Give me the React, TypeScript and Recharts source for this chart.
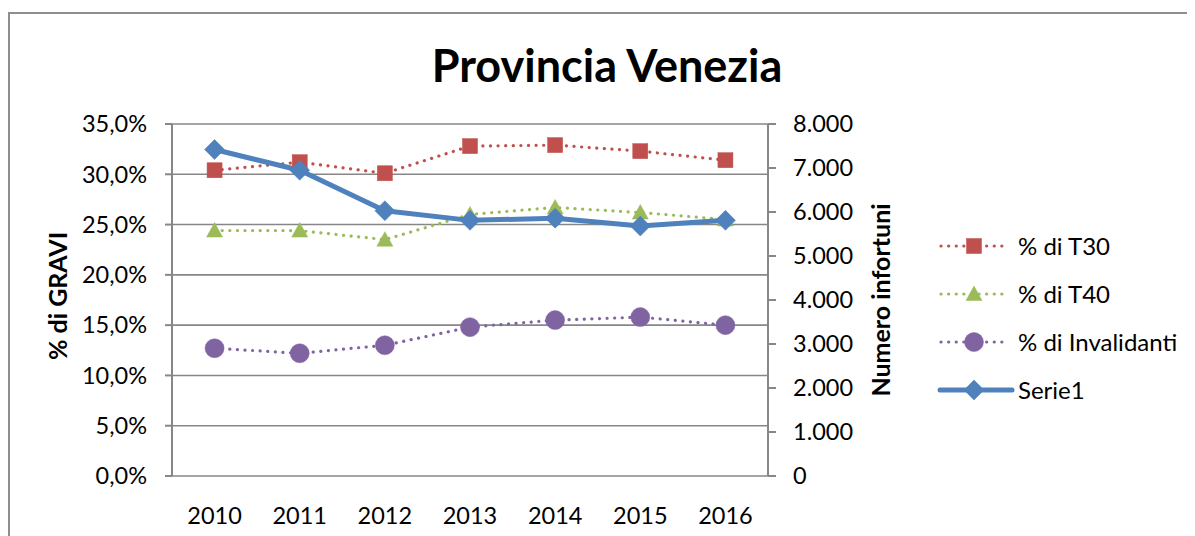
import React from 'react';
import { LineChart, Line, XAxis, YAxis, CartesianGrid, Legend } from 'recharts';

const years = ['2010', '2011', '2012', '2013', '2014', '2015', '2016'];
const t30 = [30.4, 31.2, 30.1, 32.8, 32.9, 32.3, 31.4];
const t40 = [24.4, 24.4, 23.5, 26.0, 26.7, 26.2, 25.5];
const invalidanti = [12.7, 12.2, 13.0, 14.8, 15.5, 15.8, 15.0];
const serie1 = [7420, 6950, 6030, 5810, 5860, 5680, 5810];

const pctTicks = [0, 5, 10, 15, 20, 25, 30, 35];
const countTicks = [0, 1000, 2000, 3000, 4000, 5000, 6000, 7000, 8000];
const yearTicks = [0, 1, 2, 3, 4, 5, 6];
const boundaryTicks = [-0.5, 0.5, 1.5, 2.5, 3.5, 4.5, 5.5, 6.5];

const seriesInfo = [
  { key: 't30', name: '% di T30', color: '#C0504D', marker: 'square', dotted: true, axis: 'left' },
  { key: 't40', name: '% di T40', color: '#9BBB59', marker: 'triangle', dotted: true, axis: 'left' },
  { key: 'inv', name: '% di Invalidanti', color: '#8064A2', marker: 'circle', dotted: true, axis: 'left' },
  { key: 'serie1', name: 'Serie1', color: '#4F81BD', marker: 'diamond', dotted: false, axis: 'right' },
];

const data = years.map((y, i) => ({
  x: i,
  year: y,
  t30: t30[i],
  t40: t40[i],
  inv: invalidanti[i],
  serie1: serie1[i],
}));

const GRID = '#878787';
const FONT = 'Lato, "Open Sans", sans-serif';
const TICK_FS = 23.5;

function renderMarker(type: string, cx: number, cy: number, color: string, key?: any) {
  if (cx == null || cy == null) return <g key={key} />;
  if (type === 'square') {
    return <rect key={key} x={cx - 7.5} y={cy - 7.5} width={15} height={15} fill={color} stroke={color} strokeWidth={0.5} />;
  }
  if (type === 'triangle') {
    return (
      <polygon
        key={key}
        points={`${cx},${cy - 8} ${cx + 8},${cy + 6.5} ${cx - 8},${cy + 6.5}`}
        fill={color}
        stroke={color}
        strokeWidth={0.5}
      />
    );
  }
  if (type === 'circle') {
    return <circle key={key} cx={cx} cy={cy} r={9.5} fill={color} stroke={color} strokeWidth={0.5} />;
  }
  return (
    <polygon
      key={key}
      points={`${cx},${cy - 10} ${cx + 10},${cy} ${cx},${cy + 10} ${cx - 10},${cy}`}
      fill={color}
      stroke={color}
      strokeWidth={0.5}
    />
  );
}

const LegendContent = () => (
  <svg width={270} height={200} style={{ overflow: 'visible' }}>
    {seriesInfo.map((s, i) => {
      const y = 24 + i * 48;
      return (
        <g key={s.key}>
          <line
            x1={s.dotted ? 11 : 10}
            x2={s.dotted ? 78 : 82}
            y1={y}
            y2={y}
            stroke={s.color}
            strokeWidth={s.dotted ? 3.2 : 5}
            strokeDasharray={s.dotted ? '0.1 7.5' : undefined}
            strokeLinecap="round"
          />
          {renderMarker(s.marker, 44, y, s.color)}
          <text x={88} y={y} dy="0.36em" fontSize={24} fill="#000" fontFamily={FONT}>
            {s.name}
          </text>
        </g>
      );
    })}
  </svg>
);

const fmtPct = (v: number) => v.toFixed(1).replace('.', ',') + '%';
const fmtCount = (v: number) => (v === 0 ? '0' : v.toLocaleString('de-DE'));

export default function App() {
  return (
    <div style={{ position: 'relative', width: 1187, height: 528, overflow: 'hidden', fontFamily: FONT, background: '#fff' }}>
      <div
        style={{
          position: 'absolute',
          left: 0,
          top: 4,
          width: 1187,
          height: 524,
          borderLeft: '2px solid #8e8e8e',
          borderTop: '2px solid #8e8e8e',
          boxSizing: 'border-box',
        }}
      />
      <svg style={{ position: 'absolute', left: 0, top: 0 }} width={1187} height={110}>
        <text x={599} y={74} textAnchor="middle" fontSize={45} fontWeight={700} fill="#000" fontFamily={FONT}>
          Provincia Venezia
        </text>
      </svg>
      <LineChart
        width={1187}
        height={528}
        data={data}
        margin={{ top: 116, right: 307, left: 0, bottom: 0 }}
        style={{ position: 'absolute', left: 0, top: 0 }}
      >
        <CartesianGrid horizontal vertical={false} yAxisId="left" stroke={GRID} strokeWidth={1.6} strokeDasharray="" />
        <XAxis
          xAxisId="b"
          type="number"
          domain={[-0.5, 6.5]}
          ticks={boundaryTicks}
          interval={0}
          height={0}
          axisLine={{ stroke: GRID, strokeWidth: 2 }}
          tickLine={{ stroke: GRID, strokeWidth: 2 }}
          tickSize={7}
          tickFormatter={() => ''}
        />
        <XAxis
          dataKey="x"
          type="number"
          domain={[-0.5, 6.5]}
          ticks={yearTicks}
          interval={0}
          height={60}
          axisLine={false}
          tickLine={false}
          tickSize={7}
          tickMargin={24}
          tickFormatter={(v: number) => years[v] ?? ''}
          tick={{ fill: '#000', fontSize: TICK_FS, fontFamily: FONT }}
        />
        <YAxis
          yAxisId="left"
          orientation="left"
          width={164}
          domain={[0, 35]}
          ticks={pctTicks}
          interval={0}
          tickFormatter={fmtPct}
          axisLine={{ stroke: GRID, strokeWidth: 2 }}
          tickLine={{ stroke: GRID, strokeWidth: 2 }}
          tickSize={7}
          tickMargin={18}
          tick={{ fill: '#000', fontSize: TICK_FS, fontFamily: FONT }}
          label={{
            content: ({ viewBox }: any) => {
              const cy = viewBox.y + viewBox.height / 2 - 4;
              return (
                <text
                  x={50}
                  y={cy}
                  transform={`rotate(-90 50 ${cy})`}
                  textAnchor="middle"
                  dy="0.36em"
                  fontSize={25}
                  fontWeight={700}
                  fill="#000"
                  fontFamily={FONT}
                >
                  % di GRAVI
                </text>
              );
            },
          }}
        />
        <YAxis
          yAxisId="right"
          orientation="right"
          width={120}
          domain={[0, 8000]}
          ticks={countTicks}
          interval={0}
          tickFormatter={fmtCount}
          axisLine={{ stroke: GRID, strokeWidth: 2 }}
          tickLine={{ stroke: GRID, strokeWidth: 2 }}
          tickSize={8}
          tickMargin={17}
          tick={{ fill: '#000', fontSize: TICK_FS, fontFamily: FONT }}
          label={{
            content: ({ viewBox }: any) => {
              const cx = viewBox.x + 113;
              const cy = viewBox.y + viewBox.height / 2;
              return (
                <text
                  x={cx}
                  y={cy}
                  transform={`rotate(-90 ${cx} ${cy})`}
                  textAnchor="middle"
                  dy="0.36em"
                  fontSize={25}
                  fontWeight={700}
                  fill="#000"
                  fontFamily={FONT}
                >
                  Numero infortuni
                </text>
              );
            },
          }}
        />
        <Legend
          layout="vertical"
          align="center"
          verticalAlign="middle"
          content={() => <LegendContent />}
          wrapperStyle={{ left: 922, top: 214, width: 270, height: 200 }}
        />
        {seriesInfo.map((s) => (
          <Line
            key={s.key}
            yAxisId={s.axis}
            dataKey={s.key}
            name={s.name}
            type="linear"
            stroke={s.color}
            strokeWidth={s.dotted ? 3.2 : 5}
            strokeDasharray={s.dotted ? '0.1 7.5' : undefined}
            strokeLinecap="round"
            strokeLinejoin="round"
            dot={(p: any) => renderMarker(s.marker, p.cx, p.cy, s.color, `${s.key}-${p.index}`)}
            activeDot={false}
            isAnimationActive={false}
          />
        ))}
      </LineChart>
    </div>
  );
}
